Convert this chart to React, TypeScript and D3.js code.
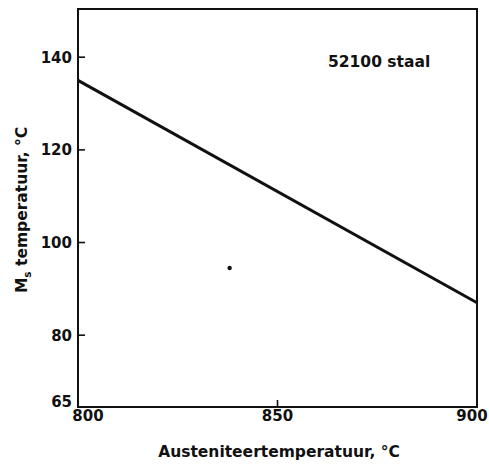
import React from "react";
import * as d3 from "d3";

const xTicks = [800, 850, 900];
const yTicks = [65, 80, 100, 120, 140];
const lineX = [800, 900];
const lineY = [135, 87];
const strayX = [838];
const strayY = [94.5];

const W = 489;
const H = 465;
const M = { left: 78, right: 12, top: 9, bottom: 58 };
const FONT = "'DejaVu Sans', sans-serif";

export default function App() {
  const x = d3.scaleLinear().domain([800, 900]).range([M.left, W - M.right]);
  const y = d3.scaleLinear().domain([64.5, 150.4]).range([H - M.bottom, M.top]);
  const pts: [number, number][] = lineX.map((v, i) => [v, lineY[i]]);
  const line = d3
    .line<[number, number]>()
    .x((d) => x(d[0]))
    .y((d) => y(d[1]));
  const [x0, x1] = x.range();
  const [yb, yt] = y.range();
  return (
    <svg
      width={W}
      height={H}
      style={{ position: "absolute", left: 0, top: 0, background: "#fff" }}
      fontFamily={FONT}
    >
      <rect x={x0} y={yt} width={x1 - x0} height={yb - yt} fill="none" stroke="#111" strokeWidth={2} />
      {yTicks.map((t) => (
        <g key={t}>
          {t !== 65 && <line x1={x0} x2={x0 + 7} y1={y(t)} y2={y(t)} stroke="#111" strokeWidth={1.6} />}
          <text
            x={x0 - 6}
            y={y(t) - (t === 65 ? 3 : 0)}
            dy="0.36em"
            textAnchor="end"
            fontSize={15}
            fontWeight={600}
            fill="#111"
          >
            {t}
          </text>
        </g>
      ))}
      {xTicks.map((t, i) => (
        <g key={t}>
          {i === 1 && <line x1={x(t)} x2={x(t)} y1={yb} y2={yb - 7} stroke="#111" strokeWidth={1.6} />}
          <text
            x={x(t) + (i === 0 ? 10 : i === 2 ? -5 : 0)}
            y={yb + 14}
            textAnchor="middle"
            fontSize={15}
            fontWeight={600}
            fill="#111"
          >
            {t}
          </text>
        </g>
      ))}
      <path d={line(pts) || ""} fill="none" stroke="#111" strokeWidth={3} />
      {strayX.map((v, i) => (
        <circle key={i} cx={x(v)} cy={y(strayY[i])} r={2.2} fill="#111" />
      ))}
      <text x={328} y={67} fontSize={15.5} fill="#111" fontWeight={600}>
        52100 staal
      </text>
      <text x={279} y={457} textAnchor="middle" fontSize={15.5} fill="#111" fontWeight={600}>
        Austeniteertemperatuur, °C
      </text>
      <text
        transform={`translate(27, 210) rotate(-90)`}
        textAnchor="middle"
        fontSize={15.5}
        fill="#111"
        fontWeight={600}
      >
        M<tspan fontSize={10.5} dy={4}>s</tspan>
        <tspan dy={-4}> temperatuur, °C</tspan>
      </text>
    </svg>
  );
}
